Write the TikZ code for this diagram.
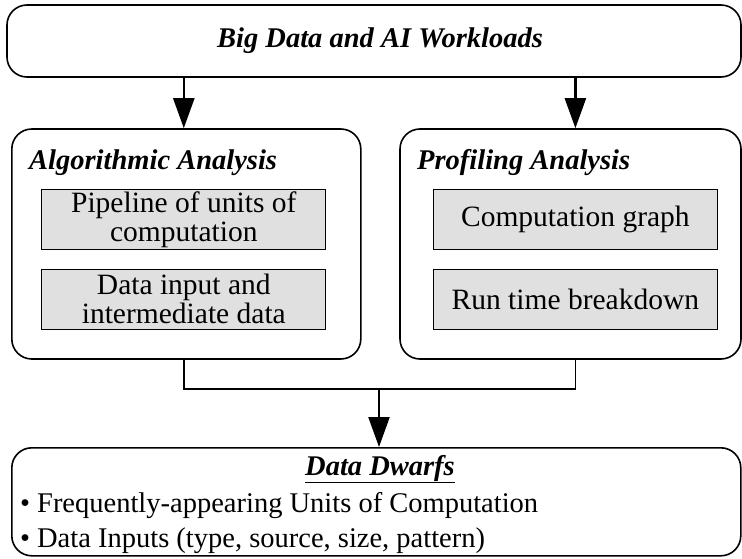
\documentclass[tikz,border=0pt]{standalone}
\usepackage{fontspec}
\setmainfont{Liberation Serif}
\usetikzlibrary{arrows.meta,positioning}
\definecolor{boxgray}{HTML}{E0E0E0}

\begin{document}
\begin{tikzpicture}[x=1pt, y=-1pt,
	bigbox/.style = {draw, line width=1.6pt, rounded corners=20pt, inner sep=0pt},
	unitbox/.style = {draw, line width=1.2pt, fill=boxgray, minimum width=284pt, minimum height=60pt, align=center, inner sep=0pt, font=\fontsize{29.5}{29}\selectfont},
	head/.style = {inner sep=0pt, font=\fontsize{28.5}{30}\selectfont\bfseries\itshape},
	body/.style = {inner sep=0pt, font=\fontsize{28.5}{30}\selectfont},
	flow/.style = {-{Triangle[length=30pt, width=21pt]}, line width=2.4pt},
	link/.style = {line width=1.4pt}]
	\useasboundingbox (0,0) rectangle (742,559);

	\node[bigbox, minimum width=734pt, minimum height=72pt] (workloads) at (374,41) {};
	\node[head] (worktitle) at (380,41) {Big Data and AI Workloads};

	\node[bigbox, minimum width=349pt, minimum height=230pt] (algo) at (186.3,244) {};
	\node[bigbox, minimum width=341pt, minimum height=230pt] (prof) at (570.5,244) {};
	\node[head, anchor=base west] (algotitle) at (29,170) {Algorithmic Analysis};
	\node[head, anchor=base west] (proftitle) at (417,170) {Profiling Analysis};

	\node[unitbox] (pipe) at (183.8,219.4) {Pipeline of units of\\computation};
	\node[unitbox] (datain) at (183.8,299.2) {Data input and\\intermediate data};
	\node[unitbox] (graph) at (575.4,219.4) {Computation graph};
	\node[unitbox] (runtime) at (575.4,299.2) {Run time breakdown};

	\node[bigbox, minimum width=729pt, minimum height=108pt] (dwarfs) at (376.3,501.8) {};
	\node[head, anchor=base] (dwarfstitle) at (380,475) {\underline{Data Dwarfs}};
	\node[body, anchor=base west] (item1) at (20,512) {\textbullet\hspace{7pt}Frequently-appearing Units of Computation};
	\node[body, anchor=base west] (item2) at (20,547) {\textbullet\hspace{7pt}Data Inputs (type, source, size, pattern)};

	\draw[flow] (pipe |- workloads.south) -- (pipe |- algo.north);
	\draw[flow] (graph |- workloads.south) -- (graph |- prof.north);

	\draw[link] (pipe |- algo.south) -- ++(0,29) coordinate (joinl) -| (graph |- prof.south);
	\coordinate (merge) at (379,387.7);
	\draw[flow] (merge) -- (merge |- dwarfs.north);
\end{tikzpicture}
\end{document}
